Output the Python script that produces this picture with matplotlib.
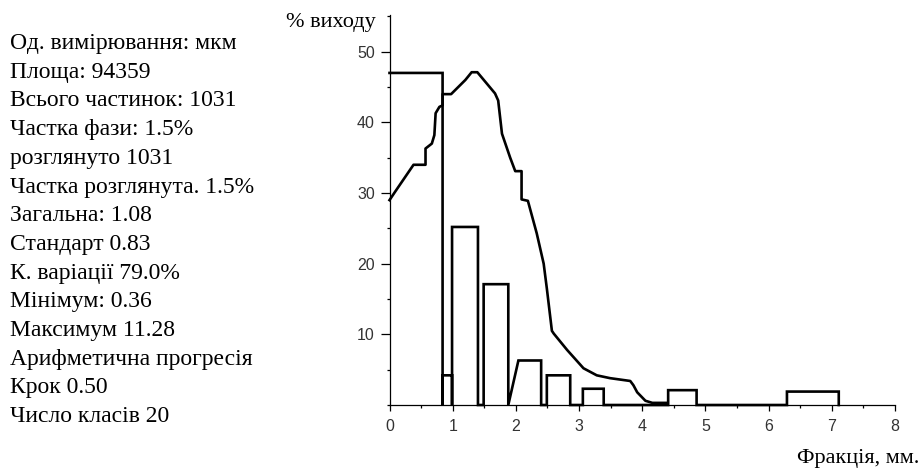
import numpy as np
import matplotlib
matplotlib.use('Agg')
from matplotlib import pyplot as plt
from matplotlib.ticker import MultipleLocator, FixedLocator

# info block on the left
info_lines = [
    'Од. вимірювання: мкм',
    'Площа: 94359',
    'Всього частинок: 1031',
    'Частка фази: 1.5%',
    'розглянуто 1031',
    'Частка розглянута. 1.5%',
    'Загальна: 1.08',
    'Стандарт 0.83',
    'К. варіації 79.0%',
    'Мінімум: 0.36',
    'Максимум 11.28',
    'Арифметична прогресія',
    'Крок 0.50',
    'Число класів 20',
]

# histogram outline (as drawn, vertices)
hist_x = [0.0, 0.84, 0.84, 0.84, 0.99, 0.99, 0.99, 1.40, 1.40, 1.49, 1.49, 1.88, 1.88,
          2.04, 2.40, 2.40, 2.49, 2.49, 2.86, 2.86, 3.06, 3.06, 3.39, 3.39,
          4.41, 4.41, 4.86, 4.86, 6.29, 6.29, 7.11, 7.11]
hist_y = [47.0, 47.0, 0.0, 4.2, 4.2, 0.0, 25.2, 25.2, 0.0, 0.0, 17.1, 17.1, 0.0,
          6.3, 6.3, 0.0, 0.0, 4.2, 4.2, 0.0, 0.0, 2.3, 2.3, 0.0,
          0.0, 2.1, 2.1, 0.0, 0.0, 1.9, 1.9, 0.0]

# cumulative-like curve
curve_x = [0.0, 0.09, 0.38, 0.57, 0.57, 0.67, 0.71, 0.73, 0.79, 0.84, 0.84, 0.975,
           1.20, 1.30, 1.39, 1.67, 1.72, 1.78, 1.91, 1.99, 2.09, 2.09, 2.19,
           2.33, 2.44, 2.49, 2.57, 2.60, 2.81, 3.07, 3.28, 3.49, 3.81, 3.86,
           3.92, 4.05, 4.16, 4.40]
curve_y = [29.0, 30.2, 34.0, 34.0, 36.3, 37.0, 38.2, 41.3, 42.2, 42.4, 44.0, 44.0,
           46.0, 47.1, 47.1, 44.1, 43.1, 38.4, 35.0, 33.1, 33.1, 29.1, 28.9,
           24.3, 20.0, 16.5, 10.5, 10.1, 7.8, 5.2, 4.2, 3.8, 3.4, 2.8,
           1.8, 0.6, 0.3, 0.3]

x_ticks = [0, 1, 2, 3, 4, 5, 6, 7, 8]
y_ticks = [10, 20, 30, 40, 50]

serif = ['Liberation Serif', 'DejaVu Serif']
sans = ['Liberation Sans', 'DejaVu Sans']

fig = plt.figure(figsize=(9.22, 4.68), dpi=100)
ax = fig.add_axes([389.5 / 922, 63 / 468, (895 - 389.5) / 922, (453 - 63) / 468])

ax.plot(hist_x, hist_y, color='black', lw=1.9, solid_joinstyle='miter', clip_on=False)
ax.plot(curve_x, curve_y, color='black', lw=1.9, clip_on=False)

ax.set_xlim(0, 8)
ax.set_ylim(0, 55.2)
for s in ['top', 'right']:
    ax.spines[s].set_visible(False)
for s in ['left', 'bottom']:
    ax.spines[s].set_linewidth(0.9)

ax.xaxis.set_major_locator(FixedLocator(x_ticks))
ax.xaxis.set_minor_locator(MultipleLocator(0.5))
ax.yaxis.set_major_locator(FixedLocator(y_ticks))
ax.yaxis.set_minor_locator(MultipleLocator(5))
ax.tick_params(which='major', width=0.9, labelsize=11.5, colors='black',
               labelcolor='#333333')
ax.tick_params(axis='x', which='major', length=4, pad=6)
ax.tick_params(axis='y', which='major', length=6.5, pad=4)
ax.tick_params(which='minor', length=2.5, width=0.9)
for lab in ax.get_xticklabels() + ax.get_yticklabels():
    lab.set_family(sans)

fig.text(286 / 922, 1 - 22 / 468, '% виходу', family=serif, fontsize=16,
         va='center', ha='left')
fig.text(919 / 922, 1 - 458 / 468, 'Фракція, мм.', family=serif, fontsize=16,
         va='center', ha='right')

for i, line in enumerate(info_lines):
    fig.text(10 / 922, 1 - (49 + i * 28.7) / 468, line, family=serif, fontsize=17,
             va='baseline', ha='left')

fig.savefig('out.png', dpi=100)
